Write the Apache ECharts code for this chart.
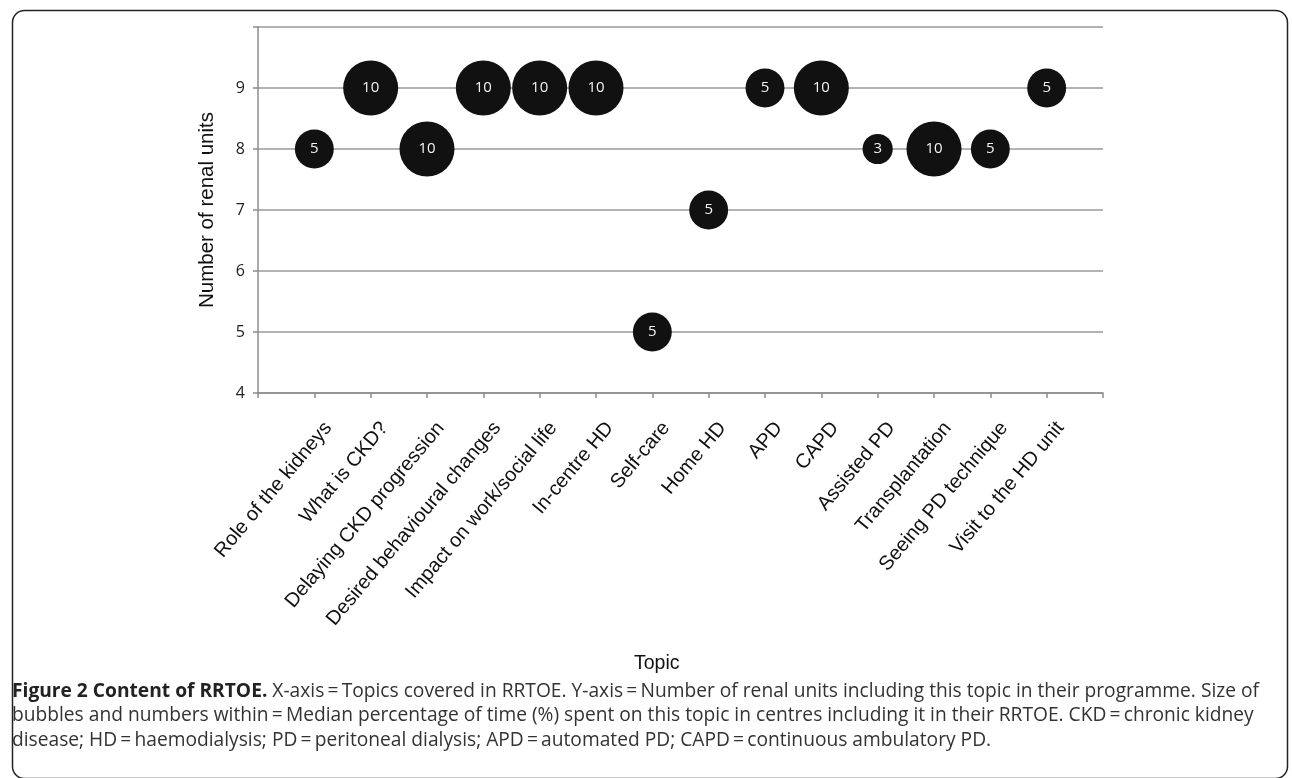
<!DOCTYPE html>
<html><head><meta charset="utf-8">
<script src="https://cdn.jsdelivr.net/npm/echarts@6/dist/echarts.min.js"></script>
<style>html,body{margin:0;padding:0;background:#fff}#c{width:1292px;height:778px}</style>
</head><body><div id="c"></div>
<script>
var categories = ["Role of the kidneys","What is CKD?","Delaying CKD progression","Desired behavioural changes","Impact on work/social life","In-centre HD","Self-care","Home HD","APD","CAPD","Assisted PD","Transplantation","Seeing PD technique","Visit to the HD unit"];
var renalUnits = [8,9,8,9,9,9,5,7,9,9,8,8,8,9];
var medianPct = [5,10,10,10,10,10,5,5,5,10,3,10,5,5];
var yTicks = [4,5,6,7,8,9];

var data = categories.map(function(c,i){ return [i+1, renalUnits[i], medianPct[i]]; });
var chart = echarts.init(document.getElementById('c'));
var capFont = '"Open Sans", sans-serif';
var arial = '"Liberation Sans", Arial, sans-serif';
var eq = '\u2009=\u2009';
var capText = '{b|Figure 2 Content of RRTOE.} X-axis' + eq + 'Topics covered in RRTOE. Y-axis' + eq + 'Number of renal units including this topic in their programme. Size of\n' +
  'bubbles and numbers within' + eq + 'Median percentage of time (%) spent on this topic in centres including it in their RRTOE. CKD' + eq + 'chronic kidney\n' +
  'disease; HD' + eq + 'haemodialysis; PD' + eq + 'peritoneal dialysis; APD' + eq + 'automated PD; CAPD' + eq + 'continuous ambulatory PD.';
chart.setOption({
  animation:false,
  grid:{left:258,right:189,top:27,bottom:385},
  xAxis:{type:'value',min:0,max:15,interval:1,
    axisLine:{lineStyle:{color:'#8c8c8c',width:1.5}},
    axisTick:{show:true,length:5,lineStyle:{color:'#8c8c8c',width:1.5}},
    splitLine:{show:false},
    axisLabel:{rotate:50,margin:20,verticalAlign:'top',padding:[8,0,0,0],fontFamily:arial,fontSize:20,color:'#111',
      formatter:function(v){return (v>=1&&v<=categories.length)?categories[v-1]:'';}}
  },
  yAxis:{type:'value',min:4,max:10,interval:1,
    name:'Number of renal units',nameLocation:'middle',nameGap:40,
    nameTextStyle:{fontFamily:arial,fontSize:20.5,color:'#111'},
    axisLine:{show:true,lineStyle:{color:'#8c8c8c',width:1.5}},
    axisTick:{show:true,length:5,lineStyle:{color:'#8c8c8c',width:1.5}},
    splitLine:{show:true,lineStyle:{color:'#9a9a9a',width:1.5}},
    axisLabel:{margin:13,fontFamily:capFont,fontSize:16,color:'#222',
      formatter:function(v){return yTicks.indexOf(v)>=0?String(v):'';}}
  },
  series:[{type:'scatter',data:data,
    symbolSize:function(d){return 17.4*Math.sqrt(d[2]);},
    itemStyle:{color:'#111111',opacity:1},
    label:{show:true,position:'inside',color:'#f2f2f2',fontFamily:capFont,fontSize:15,
      formatter:function(p){return String(p.value[2]);}}
  }],
  graphic:[
    {type:'rect',left:10,top:8,z:-1,shape:{width:1275,height:768,r:12},style:{fill:'none',stroke:'#222',lineWidth:1.5}},
    {type:'text',left:634,top:654,style:{text:'Topic',font:'19.5px '+arial,fill:'#111'}},
    {type:'text',left:12,top:679,style:{
      text:capText,
      font:'19.2px '+capFont,fill:'#333',lineHeight:24.5,
      rich:{b:{fontWeight:'bold',fontFamily:capFont,fontSize:19.2,fill:'#222',lineHeight:24.5}}
    }}
  ]
});
</script></body></html>
